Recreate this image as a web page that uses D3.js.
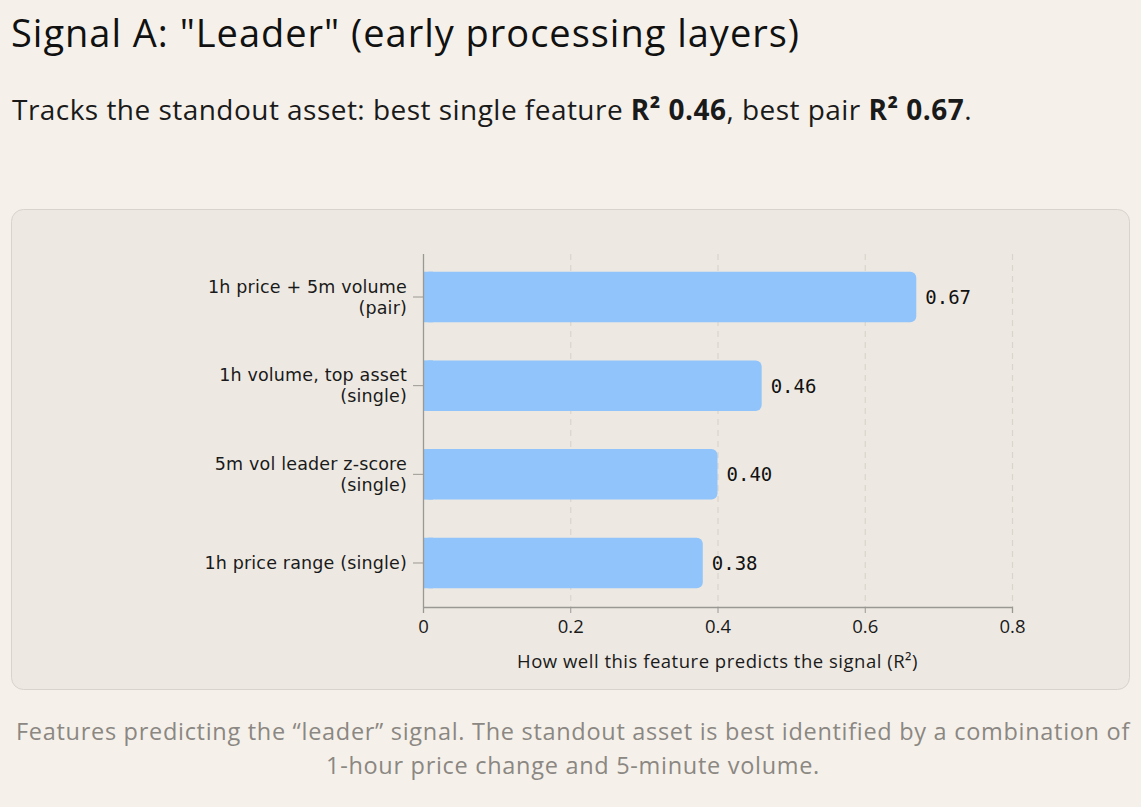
<!DOCTYPE html>
<html>
<head>
<meta charset="utf-8">
<script src="https://cdn.jsdelivr.net/npm/d3@7"></script>
<style>
  html, body { margin:0; padding:0; background:#f5f1ea; }
  svg { display:block; }
  text { font-family: "Open Sans", "Noto Sans", sans-serif; }
</style>
</head>
<body>
<div id="chart"></div>
<script>
var WIDTH=1141,
	HEIGHT=807;

// data
var features=[
	["1h price + 5m volume","(pair)"],
	["1h volume, top asset","(single)"],
	["5m vol leader z-score","(single)"],
	["1h price range (single)"]
];
var r2=[0.67,0.46,0.40,0.38];
var xticks=[0,0.2,0.4,0.6,0.8];

var rows=features.map(function(f,i){
	return {key:i,lines:f,value:r2[i]};
});

// stretch a text's letter spacing so it fills a width
function fit(sel,target){
	var node=sel.node(),
		w=node.getComputedTextLength(),
		n=node.textContent.length;
	var ls=(target-w)/n;
	sel.style("letter-spacing",ls+"px");
	return ls;
}

var svg=d3.select("#chart")
			.append("svg")
				.attr("width",WIDTH)
				.attr("height",HEIGHT);

// headings
var title=svg.append("text")
	.attr("x",11).attr("y",47)
	.style("font-size","38px")
	.style("fill","#111")
	.text("Signal A: \"Leader\" (early processing layers)");
fit(title,789);

var sub=svg.append("text")
	.attr("x",12).attr("y",120)
	.style("font-size","28px")
	.style("fill","#1a1a1a");
sub.append("tspan").text("Tracks the standout asset: best single feature ");
sub.append("tspan").style("font-weight","bold").text("R² 0.46");
sub.append("tspan").text(", best pair ");
sub.append("tspan").style("font-weight","bold").text("R² 0.67");
sub.append("tspan").text(".");
fit(sub,960);

// panel
svg.append("rect")
	.attr("x",11.5).attr("y",209.5)
	.attr("width",1118).attr("height",480)
	.attr("rx",12)
	.style("fill","#ede9e2")
	.style("stroke","#d8d3cb");

var xscale=d3.scaleLinear().domain([0,0.8]).range([423,1012]);
var yscale=d3.scaleBand()
	.domain(rows.map(function(d){ return d.key; }))
	.range([254,606])
	.paddingInner(0.43)
	.paddingOuter(0.2);

var AXIS_Y=607;

// dashed grid
svg.append("g").selectAll("line.grid")
	.data(xticks.slice(1))
	.enter()
		.append("line")
			.attr("x1",function(d){ return xscale(d)+0.5; })
			.attr("x2",function(d){ return xscale(d)+0.5; })
			.attr("y1",254)
			.attr("y2",AXIS_Y)
			.style("stroke","#d9d4cc")
			.style("stroke-width",1.2)
			.style("stroke-dasharray","6,5");

// bars
svg.append("g").selectAll("rect.bar")
	.data(rows)
	.enter()
		.append("rect")
			.attr("class","bar")
			.attr("x",xscale(0))
			.attr("y",function(d){ return yscale(d.key); })
			.attr("width",function(d){ return xscale(d.value)-xscale(0); })
			.attr("height",yscale.bandwidth())
			.attr("rx",6)
			.style("fill","#90c4fa");

// square off the left edge at the axis
svg.append("g").selectAll("rect.barl")
	.data(rows)
	.enter()
		.append("rect")
			.attr("x",xscale(0))
			.attr("y",function(d){ return yscale(d.key); })
			.attr("width",10)
			.attr("height",yscale.bandwidth())
			.style("fill","#90c4fa");

// value labels
svg.append("g").selectAll("text.val")
	.data(rows)
	.enter()
		.append("text")
			.attr("x",function(d){ return xscale(d.value)+9; })
			.attr("y",function(d){ return yscale(d.key)+yscale.bandwidth()/2; })
			.attr("dy","0.36em")
			.style("font-family","'DejaVu Sans Mono', monospace")
			.style("font-size","19px")
			.style("fill","#111")
			.text(function(d){ return d3.format(".2f")(d.value); });

// x axis
var xaxis=svg.append("g")
	.attr("transform","translate(0,"+AXIS_Y+")")
	.call(d3.axisBottom(xscale).tickValues(xticks).tickSize(6).tickPadding(7)
		.tickFormat(function(d){ return d===0?"0":d3.format(".1f")(d); }));
xaxis.select(".domain").style("stroke","#9a9893").style("stroke-width",1.3);
xaxis.selectAll(".tick line").style("stroke","#9a9893");
xaxis.selectAll(".tick text")
	.style("font-family","'Open Sans', sans-serif")
	.style("font-size","18.5px")
	.style("fill","#1a1a1a");

// y axis
var yaxis=svg.append("g")
	.attr("transform","translate("+xscale(0)+",0)")
	.call(d3.axisLeft(yscale).tickSize(10).tickPadding(6).tickFormat(""));
yaxis.select(".domain").attr("d","M0.5,254V"+AXIS_Y).style("stroke","#9a9893").style("stroke-width",1.3);
yaxis.selectAll(".tick line").style("stroke","#9a9893");

var labelTexts=[];
yaxis.selectAll(".tick").each(function(d){
	var lines=rows[d].lines,
		g=d3.select(this);
	lines.forEach(function(l,i){
		var t=g.append("text")
			.attr("text-anchor","end")
			.attr("x",-16)
			.attr("y",(i-(lines.length-1)/2)*21)
			.attr("dy","0.35em")
			.style("font-family","'DejaVu Sans', sans-serif")
			.style("font-size","17.5px")
			.style("fill","#1a1a1a")
			.text(l);
		labelTexts.push(t);
	});
});
// spacing taken from the first label line, used for all lines
var lsp=fit(labelTexts[0],199);
labelTexts.forEach(function(t){ t.style("letter-spacing",lsp+"px"); });

var axisTitle=svg.append("text")
	.attr("x",(xscale(0)+xscale(0.8))/2)
	.attr("y",668)
	.attr("text-anchor","middle")
	.style("font-size","18.5px")
	.style("fill","#1a1a1a")
	.text("How well this feature predicts the signal (R²)");
fit(axisTitle,401);

// caption
var cap=["Features predicting the \u201cleader\u201d signal. The standout asset is best identified by a combination of",
	"1-hour price change and 5-minute volume."];
var capTexts=svg.append("g").selectAll("text.cap")
	.data(cap)
	.enter()
		.append("text")
			.attr("x",573)
			.attr("y",function(d,i){ return 740+i*34; })
			.attr("text-anchor","middle")
			.style("font-size","23.5px")
			.style("fill","#8b8782")
			.text(function(d){ return d; });
var csp=fit(d3.select(capTexts.nodes()[0]),1114);
capTexts.style("letter-spacing",csp+"px");
</script>
</body>
</html>
